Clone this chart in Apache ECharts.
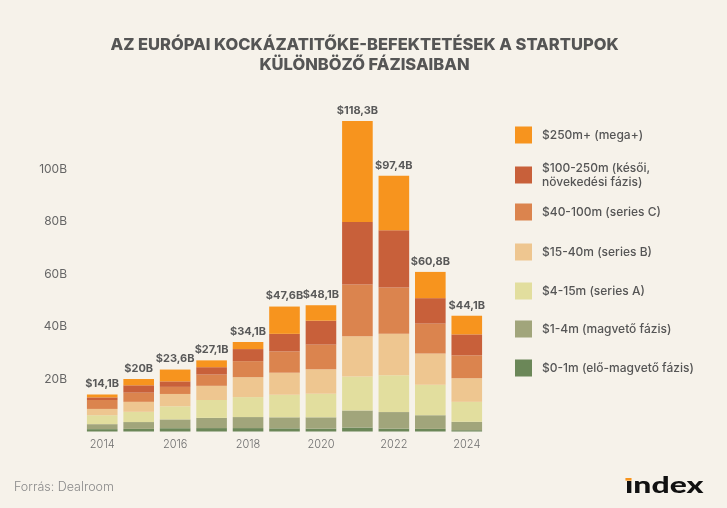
<!DOCTYPE html>
<html>
<head>
<meta charset="utf-8">
<script src="https://cdn.jsdelivr.net/npm/echarts@6/dist/echarts.min.js"></script>
<style>
html,body{margin:0;padding:0;background:#f6f2ea;}
#c{width:727px;height:508px;}
</style>
</head>
<body>
<div id="c"></div>
<script>
// ---- data ----
var years = ['2014','2015','2016','2017','2018','2019','2020','2021','2022','2023','2024'];
var preseed = [0.9, 1.0, 1.25, 1.3, 1.3, 1.2, 1.1, 1.5, 1.1, 1.0, 0.5];
var seed    = [1.9, 2.6, 3.35, 3.9, 4.2, 4.2, 4.3, 6.5, 6.3, 5.2, 3.2];
var seriesA = [3.4, 3.9, 5.0, 6.8, 7.6, 8.6, 9.0, 13.0, 14.0, 11.6, 7.6];
var seriesB = [2.4, 3.8, 4.7, 5.4, 7.6, 8.4, 9.3, 15.3, 15.8, 11.9, 9.0];
var seriesC = [3.4, 3.5, 2.7, 4.3, 6.1, 8.1, 9.4, 19.7, 17.7, 11.4, 8.7];
var late    = [1.0, 2.8, 2.1, 2.8, 4.6, 6.7, 9.1, 23.8, 21.8, 9.7, 8.0];
var mega    = [1.1, 2.4, 4.5, 2.6, 2.7, 10.4, 5.9, 38.5, 20.7, 10.0, 7.1];
var totals  = [14.1, 20, 23.6, 27.1, 34.1, 47.6, 48.1, 118.3, 97.4, 60.8, 44.1];
var seriesNames = [
  '$0-1m (elő-magvető fázis)',
  '$1-4m (magvető fázis)',
  '$4-15m (series A)',
  '$15-40m (series B)',
  '$40-100m (series C)',
  '$100-250m (késői,\nnövekedési fázis)',
  '$250m+ (mega+)'
];
var titleText = 'AZ EURÓPAI KOCKÁZATITŐKE-BEFEKTETÉSEK A STARTUPOK\nKÜLÖNBÖZŐ FÁZISAIBAN';
var sourceText = 'Forrás: Dealroom';

// ---- styles ----
var colors = ['#6b8758','#a1a57b','#e2de9e','#eec690','#db844e','#c8603a','#f7941e'];
var FONT = 'Inter';
var values = [preseed, seed, seriesA, seriesB, seriesC, late, mega];

var series = values.map(function (arr, i) {
  var s = {
    name: seriesNames[i],
    type: 'bar',
    stack: 'total',
    data: arr,
    barCategoryGap: '16%',
    itemStyle: { color: colors[i] },
    emphasis: { disabled: true }
  };
  if (i === values.length - 1) {
    s.label = {
      show: true,
      position: 'top',
      distance: 5,
      fontFamily: FONT,
      fontWeight: 700,
      fontSize: 11,
      color: '#595959',
      formatter: function (p) {
        return '$' + String(totals[p.dataIndex]).replace('.', ',') + 'B';
      }
    };
  }
  return s;
});

// one legend per item so spacing is uniform
var legendCenters = [368, 329, 291, 252, 212, 175, 135];
var legends = seriesNames.map(function (n, i) {
  var twoLine = n.indexOf('\n') >= 0;
  return {
    data: [n],
    orient: 'vertical',
    left: 515,
    top: twoLine ? legendCenters[i] - 14 : legendCenters[i] - 8.5,
    padding: 0,
    icon: 'rect',
    itemWidth: 17,
    itemHeight: 17,
    selectedMode: false,
    textStyle: {
      fontFamily: FONT,
      fontWeight: 500,
      fontSize: 12,
      lineHeight: 14,
      color: '#555555',
      padding: [0, 0, 0, 5]
    }
  };
});

var chart = echarts.init(document.getElementById('c'), null, { renderer: 'canvas' });
chart.setOption({
  backgroundColor: '#f6f2ea',
  animation: false,
  title: {
    text: titleText,
    left: 359.5,
    top: 30,
    textAlign: 'center',
    textStyle: {
      fontFamily: FONT,
      fontWeight: 800,
      fontSize: 16.5,
      lineHeight: 20,
      color: '#555555'
    }
  },
  legend: legends,
  grid: { left: 84, right: 242, top: 116.5, bottom: 76.5 },
  xAxis: {
    type: 'category',
    data: years,
    axisLine: { show: false },
    axisTick: { show: false },
    axisLabel: {
      interval: 1,
      margin: 8,
      fontFamily: FONT,
      fontWeight: 300,
      fontSize: 11,
      color: '#6f6f6f'
    }
  },
  yAxis: {
    type: 'value',
    min: 0,
    max: 120,
    interval: 20,
    splitLine: { show: false },
    axisLine: { show: false },
    axisTick: { show: false },
    axisLabel: {
      showMinLabel: false,
      showMaxLabel: false,
      margin: 17,
      fontFamily: FONT,
      fontWeight: 400,
      fontSize: 12,
      color: '#666666',
      formatter: function (v) { return v + 'B'; }
    }
  },
  series: series,
  graphic: [
    {
      type: 'text',
      left: 14,
      top: 481,
      style: { text: sourceText, fontFamily: FONT, fontWeight: 300, fontSize: 12.5, fill: '#8a8a8a' }
    },
    {
      type: 'group',
      left: 625,
      top: 475,
      scaleX: 1.45,
      children: [
        { type: 'text', x: 0, y: 0, style: { text: 'ındex', fontFamily: 'Lato', fontWeight: 900, fontSize: 22, fill: '#111111' } },
        { type: 'rect', shape: { x: 0.3, y: 3, width: 4.2, height: 2.6 }, style: { fill: '#f7941e' } }
      ]
    }
  ]
});
</script>
</body>
</html>
